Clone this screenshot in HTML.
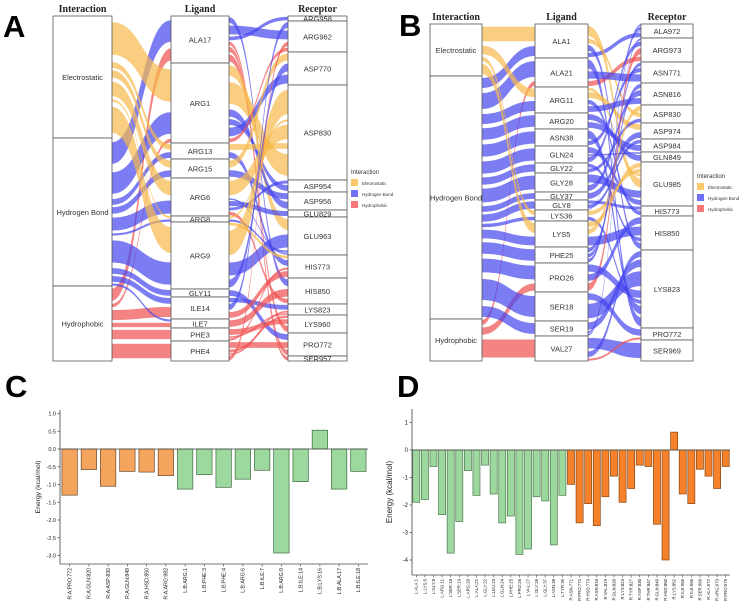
<!DOCTYPE html>
<html><head><meta charset="utf-8"><style>
body{margin:0;background:#fff;width:748px;height:613px;overflow:hidden}
svg{display:block;font-family:"Liberation Sans",sans-serif}
</style></head><body>
<svg id="fig" width="748" height="613" viewBox="0 0 748 613"></svg>
<script>
// ---------- Panel A data ----------
const aInteractions=["Electrostatic","Hydrogen Bond","Hydrophobic"];
const aInteractionSizes=[122,148,75];
const aLigands=["ALA17","ARG1","ARG13","ARG15","ARG6","ARG8","ARG9","GLY11","ILE14","ILE7","PHE3","PHE4"];
const aLigandSizes=[47,80,16,19,38,6,67,8,22,9,13,20];
const aReceptors=["ARG958","ARG962","ASP770","ASP830","ASP954","ASP956","GLU829","GLU963","HIS773","HIS850","LYS823","LYS960","PRO772","SER957"];
const aReceptorSizes=[5,31,33,95,12,18,7,38,23,26,11,18,23,5];
// [interaction, ligand, value]
const aLeftFlows=[[1,0,30],[2,0,17],[0,1,45],[1,1,30],[2,1,5],[0,2,8],[1,2,8],[0,3,10],[1,3,9],[0,4,20],[1,4,18],[0,5,3],[1,5,3],[0,6,36],[1,6,31],[1,7,8],[1,8,8],[2,8,14],[1,9,3],[2,9,6],[2,10,13],[2,11,20]];
// [ligand, receptor, type, value]
const aRightFlows=[[0,0,1,5],[0,1,1,12],[0,11,2,10],[0,12,2,7],[0,9,1,8],[0,13,2,5],
[1,3,0,30],[1,2,1,12],[1,4,1,8],[1,7,0,15],[1,5,1,10],[1,1,2,5],
[2,3,0,8],[2,8,1,8],[3,2,0,10],[3,5,1,9],
[4,3,0,20],[4,6,1,7],[4,9,2,5],[4,4,1,4],[4,7,1,2],
[5,3,0,3],[5,7,1,3],[6,3,0,34],[6,7,1,18],[6,2,1,11],[6,8,0,4],
[7,12,1,8],[8,10,1,6],[8,8,2,8],[8,1,1,8],[9,9,2,9],
[10,11,2,8],[10,8,2,3],[10,10,2,2],[11,12,2,8],[11,11,2,4],[11,1,2,6],[11,10,2,2]];

// ---------- Panel B data ----------
const bInteractions=["Electrostatic","Hydrogen Bond","Hydrophobic"];
const bInteractionSizes=[52,243,42];
const bLigands=["ALA1","ALA21","ARG11","ARG20","ASN38","GLN24","GLY22","GLY28","GLY37","GLY8","LYS36","LYS5","PHE25","PRO26","SER18","SER19","VAL27"];
const bLigandSizes=[34,29,26,16,17,17,10,19,8,10,11,26,16,29,29,15,25];
const bReceptors=["ALA972","ARG973","ASN771","ASN816","ASP830","ASP974","ASP984","GLN849","GLU985","HIS773","HIS850","LYS823","PRO772","SER969"];
const bReceptorSizes=[14,24,21,22,18,16,13,10,44,10,34,78,12,21];
const bLeftFlows=[[0,0,20],[1,0,14],[1,1,22],[2,1,7],[0,2,12],[1,2,14],[1,3,16],[1,4,17],[1,5,17],[1,6,10],[1,7,19],[1,8,8],[1,9,10],[0,10,6],[1,10,5],[0,11,14],[1,11,12],[1,12,16],[1,13,19],[2,13,10],[1,14,29],[1,15,15],[2,16,25]];
const bRightFlows=[[0,8,0,14],[0,0,1,6],[0,4,0,6],[0,10,1,8],
[1,1,2,7],[1,2,1,10],[1,11,1,12],
[2,5,0,8],[2,8,0,4],[2,3,1,8],[2,9,1,6],
[3,6,1,8],[3,7,1,8],[4,2,1,6],[4,11,1,11],
[5,7,1,2],[5,1,1,7],[5,8,1,8],[6,4,1,5],[6,10,1,5],
[7,3,1,8],[7,8,1,11],[8,5,1,8],[9,9,1,4],[9,6,1,5],[9,0,1,1],
[10,8,0,6],[10,11,1,5],[11,4,0,7],[11,8,0,7],[11,10,1,12],
[12,3,1,6],[12,2,1,5],[12,0,1,5],[13,1,2,10],[13,11,1,10],[13,10,1,9],
[14,11,1,20],[14,12,1,9],[15,11,1,10],[15,0,1,2],[15,1,1,3],
[16,13,1,15],[16,12,2,3],[16,11,1,8]];

// ---------- Panel C data ----------
const cLabels=["R:A:PRO:772","R:A:GLN:820","R:A:ASP:830","R:A:GLN:849","R:A:HSD:850","R:A:ARG:982","L:B:ARG:1","L:B:PHE:3","L:B:PHE:4","L:B:ARG:6","L:B:ILE:7","L:B:ARG:9","L:B:ILE:14","L:B:LYS:16","L:B:ALA:17","L:B:ILE:18"];
const cValues=[-1.3,-0.58,-1.05,-0.63,-0.65,-0.75,-1.13,-0.72,-1.08,-0.85,-0.6,-2.93,-0.92,0.53,-1.13,-0.63];
const cGroups=[0,0,0,0,0,0,1,1,1,1,1,1,1,1,1,1];
const cTicks=[1.0,0.5,0.0,-0.5,-1.0,-1.5,-2.0,-2.5,-3.0];

// ---------- Panel D data ----------
const dLabels=["L:ALA:1","L:LYS:5","L:GLY:8","L:ARG:11","L:SER:18","L:SER:19","L:ARG:20","L:ALA:21","L:GLY:22","L:LEU:23","L:GLN:24","L:PHE:25","L:PRO:26","L:VAL:27","L:GLY:28","L:GLY:37","L:ASN:38","L:TYR:39","R:ASN:771","R:PRO:772","R:HSD:773","R:ASN:816","R:VAL:819","R:GLN:820","R:LYS:823","R:TYR:827","R:ASP:830","R:THR:847","R:GLN:849","R:HSD:850","R:LYS:852","R:ILE:965","R:ILE:966","R:SER:969","R:ALA:972","R:ARG:973","R:PRO:975"];
const dValues=[-1.9,-1.8,-0.6,-2.35,-3.75,-2.6,-0.75,-1.65,-0.55,-1.6,-2.65,-2.4,-3.8,-3.6,-1.7,-1.85,-3.45,-1.65,-1.25,-2.65,-1.95,-2.75,-1.7,-0.95,-1.9,-1.4,-0.55,-0.6,-2.7,-4.0,0.65,-1.6,-1.95,-0.7,-0.95,-1.4,-0.6];
const dGroups=[0,0,0,0,0,0,0,0,0,0,0,0,0,0,0,0,0,0,1,1,1,1,1,1,1,1,1,1,1,1,1,1,1,1,1,1,1];
const dTicks=[1,0,-1,-2,-3,-4];

const NS="http://www.w3.org/2000/svg";
const svg=document.getElementById('fig');
function mk(tag,attrs,parent,text){const e=document.createElementNS(NS,tag);for(const k in attrs)e.setAttribute(k,attrs[k]);if(text!==undefined)e.textContent=text;(parent||svg).appendChild(e);return e;}
const flowColors=["#f7b94a","#4545ee","#ef4f4f"];
const flowNames=["electrostatic","hydrogen-bond","hydrophobic"];
const GAP=0.72;

function layout(sizes,top,bottom){const tot=sizes.reduce((a,b)=>a+b,0);const s=(bottom-top)/tot;let y=top;return sizes.map(v=>{const r={y0:y,y1:y+v*s};y+=v*s;return r;});}
function ribbon(g,x0,a0,a1,x1,b0,b1,col,name){
  const xm=(x0+x1)/2;
  const ca=(a0+a1)/2,ha=(a1-a0)*GAP/2,cb=(b0+b1)/2,hb=(b1-b0)*GAP/2;
  a0=ca-ha;a1=ca+ha;b0=cb-hb;b1=cb+hb;
  const p=mk('path',{d:`M${x0},${a0}C${xm},${a0} ${xm},${b0} ${x1},${b0}L${x1},${b1}C${xm},${b1} ${xm},${a1} ${x0},${a1}Z`,fill:col,'fill-opacity':0.7},g);
  
  
}
function stack(flows,nodeIdx,nodes,sortKey,valIdx){
  const res=new Map();
  const groups={};
  flows.forEach((f,i)=>{const n=nodeIdx(f);(groups[n]=groups[n]||[]).push(i);});
  for(const n in groups){const ids=groups[n].sort((a,b)=>sortKey(flows[a])-sortKey(flows[b]));
    const tot=ids.reduce((s,i)=>s+flows[i][valIdx],0);const nd=nodes[n];const sc=(nd.y1-nd.y0)/tot;let y=nd.y0;
    ids.forEach(i=>{res.set(i,[y,y+flows[i][valIdx]*sc]);y+=flows[i][valIdx]*sc;});}
  return res;
}
function sankey(cfg){
  const g=mk('g',{});
  
  
  const iN=layout(cfg.iSizes,cfg.top,cfg.bottom),lN=layout(cfg.lSizes,cfg.top,cfg.bottom),rN=layout(cfg.rSizes,cfg.top,cfg.bottom);
  const L=cfg.lf,R=cfg.rf;
  const ls=stack(L,f=>f[0],iN,f=>f[1]*10+f[0],2),lt=stack(L,f=>f[1],lN,f=>f[0]*100+f[1],2);
  L.forEach((f,i)=>ribbon(g,cfg.xI[1],ls.get(i)[0],ls.get(i)[1],cfg.xL[0],lt.get(i)[0],lt.get(i)[1],flowColors[f[0]],'flow-'+flowNames[f[0]]));
  const rs=stack(R,f=>f[0],lN,f=>f[2]*100-f[1],3),rt=stack(R,f=>f[1],rN,f=>f[2]*100-f[0],3);
  R.forEach((f,i)=>ribbon(g,cfg.xL[1],rs.get(i)[0],rs.get(i)[1],cfg.xR[0],rt.get(i)[0],rt.get(i)[1],flowColors[f[2]],'flow-'+flowNames[f[2]]));
  const col=(nodes,names,xs,prefix)=>nodes.forEach((n,i)=>{
    const r=mk('rect',{x:xs[0],y:n.y0,width:xs[1]-xs[0],height:n.y1-n.y0,fill:'#fff',stroke:'#555','stroke-width':0.8},g);
    
    
    const t=mk('text',{x:(xs[0]+xs[1])/2,y:(n.y0+n.y1)/2+2.8,'font-size':7.5,'text-anchor':'middle',fill:'#333'},g,names[i]);
    
    
  });
  col(iN,cfg.iNames,cfg.xI,'interaction');col(lN,cfg.lNames,cfg.xL,'ligand');col(rN,cfg.rNames,cfg.xR,'receptor');
  [["Interaction",cfg.xI],["Ligand",cfg.xL],["Receptor",cfg.xR]].forEach(([t,xs])=>{
    const e=mk('text',{x:(xs[0]+xs[1])/2,y:cfg.top-4,'font-size':10,'font-weight':'bold','text-anchor':'middle','font-family':'"Liberation Serif",serif',fill:'#222'},g,t);
    
    
  });
  const lg=mk('g',{},g);
  
  
  mk('text',{x:cfg.leg[0],y:cfg.leg[1],'font-size':6,fill:'#333'},lg,'Interaction');
  ["Electrostatic","Hydrogen Bond","Hydrophobic"].forEach((n,i)=>{
    const r=mk('rect',{x:cfg.leg[0],y:cfg.leg[1]+5+i*11,width:7,height:7,fill:["#fbc96a","#6f6ff7","#f7777a"][i]},lg);
    
    
    mk('text',{x:cfg.leg[0]+11,y:cfg.leg[1]+11+i*11,'font-size':4.5,fill:'#333'},lg,n);
  });
}
sankey({name:'sankey-a',top:16,bottom:361,xI:[53,112],xL:[171,229],xR:[288,347],iSizes:aInteractionSizes,lSizes:aLigandSizes,rSizes:aReceptorSizes,iNames:aInteractions,lNames:aLigands,rNames:aReceptors,lf:aLeftFlows,rf:aRightFlows,leg:[351,174]});
sankey({name:'sankey-b',top:24,bottom:361,xI:[430,482],xL:[535,588],xR:[641,693],iSizes:bInteractionSizes,lSizes:bLigandSizes,rSizes:bReceptorSizes,iNames:bInteractions,lNames:bLigands,rNames:bReceptors,lf:bLeftFlows,rf:bRightFlows,leg:[697,178]});

function bars(cfg){
  const g=mk('g',{});
  
  
  const y=v=>cfg.y0-v*cfg.k;
  const bw=(cfg.x1-cfg.x0)/cfg.values.length;
  const x=i=>cfg.x0+bw*i+bw/2;
  mk('line',{x1:cfg.x0,y1:cfg.yTop,x2:cfg.x0,y2:cfg.yBot,stroke:'#444','stroke-width':0.8},g);
  mk('line',{x1:cfg.x0,y1:cfg.yBot,x2:cfg.x1,y2:cfg.yBot,stroke:'#444','stroke-width':0.8},g);
  cfg.ticks.forEach(t=>{
    mk('line',{x1:cfg.x0-2.5,y1:y(t),x2:cfg.x0,y2:y(t),stroke:'#444','stroke-width':0.7},g);
    const e=mk('text',{x:cfg.x0-4,y:y(t)+2,'font-size':cfg.tickFont,'text-anchor':'end',fill:'#222'},g,cfg.fmt(t));
    
    
  });
  cfg.values.forEach((v,i)=>{
    const r=mk('rect',{x:x(i)-bw*cfg.fill/2,y:Math.min(y(v),y(0)),width:bw*cfg.fill,height:Math.abs(y(v)-y(0)),fill:cfg.colors[cfg.groups[i]],stroke:cfg.strokes[cfg.groups[i]],'stroke-width':0.7},g);
    
    
    mk('line',{x1:x(i),y1:cfg.yBot,x2:x(i),y2:cfg.yBot+2.5,stroke:'#444','stroke-width':0.6},g);
    const t=mk('text',{x:x(i)+cfg.labFont/3,y:cfg.yBot+4,'font-size':cfg.labFont,'text-anchor':'end',fill:'#222',transform:`rotate(-90 ${x(i)+cfg.labFont/3} ${cfg.yBot+4})`},g,cfg.labels[i]);
    
    
  });
  mk('line',{x1:cfg.x0,y1:y(0),x2:cfg.x1,y2:y(0),stroke:'#444','stroke-width':0.8},g);
  const yt=mk('text',{x:cfg.titleX,y:(cfg.yTop+cfg.yBot)/2,'font-size':cfg.titleFont,'text-anchor':'middle',fill:'#222',transform:`rotate(-90 ${cfg.titleX} ${(cfg.yTop+cfg.yBot)/2})`},g,'Energy (kcal/mol)');
  
  
}
bars({name:'bar-chart-c',x0:60,x1:368,y0:449,k:35.5,yTop:410,yBot:564,values:cValues,labels:cLabels,groups:cGroups,ticks:cTicks,colors:["#f5a45e","#9dd89e"],strokes:["#6b4a2a","#3e6b40"],fill:0.8,tickFont:5.5,labFont:5.2,titleFont:6.8,titleX:40,fmt:t=>t.toFixed(1)});
bars({name:'bar-chart-d',x0:412,x1:730,y0:450,k:27.5,yTop:409,yBot:575,values:dValues,labels:dLabels,groups:dGroups,ticks:dTicks,colors:["#9dd89e","#f5822a"],strokes:["#4b7a4d","#8a4510"],fill:0.82,tickFont:6,labFont:4.3,titleFont:8,titleX:392,fmt:t=>String(t)});

[["A",3,37],["B",399,36],["C",5,397],["D",397,397]].forEach(([l,x,y])=>{
  const t=mk('text',{x:x,y:y,'font-size':31,'font-weight':'bold',fill:'#000'},svg,l);
  
  
});
</script>
</body></html>
